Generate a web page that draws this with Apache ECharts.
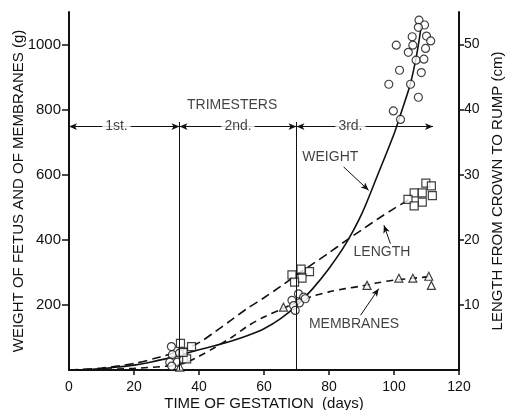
<!DOCTYPE html>
<html><head><meta charset="utf-8">
<script src="https://cdn.jsdelivr.net/npm/echarts@6/dist/echarts.min.js"></script>
<style>html,body{margin:0;padding:0;background:#fff}#c{width:505px;height:410px}</style>
</head><body><div id="c"></div>
<script>
// ---- data (x = days of gestation) ----
const xTickLabels = [0, 20, 40, 60, 80, 100, 120];
const xTickMarks = [20, 40, 60, 80, 100, 120];
const weightTicks = [200, 400, 600, 800, 1000];
const lengthTicks = [10, 20, 30, 40, 50];

// fitted weight curve (g)
const weightCurve = [[0,0],[5,1],[10,4],[15,9],[20,15],[25,24],[30,35],[35,48],[40,62],[45,75],[50,89],[55,106],[60,127],[65,157],[70,198],[75,250],[80,312],[85,385],[90,478],[95,600],[100,725],[102.5,800],[105,878],[107,970],[108.4,1058]];
// fitted crown-rump length curve (cm)
const lengthCurve = [[0,0],[10,0.3],[20,1.0],[28,2.0],[34,2.9],[40,4.2],[45,5.9],[50,7.7],[55,9.5],[60,11.1],[65,12.8],[70,14.6],[75,16.3],[80,18.0],[85,19.8],[90,21.5],[95,23.2],[100,24.8],[105,26.3]];
// fitted membranes weight curve (g)
const membraneCurve = [[0,0],[10,2],[20,5],[30,12],[35,20],[40,42],[45,70],[50,100],[55,135],[60,163],[65,185],[70,208],[75,227],[80,240],[85,250],[90,258],[95,268],[100,276],[105,281],[111,287]];

// observations
const weightObs = [[31.5,72],[31.8,47],[34,52],[31,24],[33.3,24],[35.2,32],[31.6,12],
  [70.6,234],[68.6,214],[72.2,224],[70.9,206],[69.1,198],[69.6,183],[72.7,219],
  [107.7,1075],[109.4,1060],[107.5,1053],[105.6,1024],[110,1026],[111.3,1011],[100.7,998],[105.8,998],[109.7,988],[104.4,976],[106.8,952],[109.2,955],[101.7,921],[108.4,914],[98.4,878],[105.1,878],[107.5,838],[99.8,796],[102,770]];
const lengthObs = [[34.3,4.1],[37.7,3.6],[36.2,1.7],[35.1,2.7],
  [68.6,14.6],[71.4,15.5],[74.0,15.1],[71.7,14.1],[69.4,13.5],
  [109.8,28.7],[111.5,28.3],[106.2,27.2],[108.7,27.2],[111.8,26.8],[104.3,26.2],[108.7,25.8],[106.2,25.2]];
const membraneObs = [[34.1,9],[66,193],[91.7,260],[101.5,282],[105.8,282],[110.7,288],[111.5,260]];

const trimesterBounds = [0, 34, 70, 112];
const trimesterNames = ['1st.', '2nd.', '3rd.'];

const ink = '#111';
const FONT = 'Liberation Sans';
const chart = echarts.init(document.getElementById('c'));

const seg = (a, b, sym) => [{coord: a, symbol: sym[0]}, {coord: b, symbol: sym[1]}];
const trimY = 748;
const markLines = [];
for (let i = 0; i < 3; i++) markLines.push(seg([trimesterBounds[i], trimY], [trimesterBounds[i+1], trimY], ['arrow','arrow']));
markLines.push(seg([34, 0], [34, 762], ['none','none']));
markLines.push(seg([70, 0], [70, 762], ['none','none']));
markLines.push(seg([84.5, 624], [92.2, 552], ['none','arrow']));
markLines.push(seg([98.9, 388], [96.9, 445], ['none','arrow']));
markLines.push(seg([89.7, 168], [95.3, 250], ['none','arrow']));

const txt = (x, y, s, bg) => ({value: [x, y], label: {formatter: s, backgroundColor: bg ? '#fff' : 'transparent', padding: bg ? [1, 3] : 0}});
const annot = [
  txt(50.2, 814, 'TRIMESTERS'),
  txt(14.6, trimY, trimesterNames[0], true),
  txt(52, trimY, trimesterNames[1], true),
  txt(86.6, trimY, trimesterNames[2], true),
  txt(80.4, 653, 'WEIGHT'),
  txt(96.3, 362, 'LENGTH'),
  txt(87.7, 142, 'MEMBRANES')
];

const axisLine = {show: true, lineStyle: {color: ink, width: 2}};
const lbl = {color: ink, fontFamily: FONT, fontSize: 14, formatter: v => String(v)};
const nameStyle = {color: ink, fontFamily: FONT, fontSize: 15};
const open = {color: '#fff', borderColor: ink, borderWidth: 1.2};

chart.setOption({
  animation: false,
  grid: {left: 69, right: 46, top: 12, bottom: 40, containLabel: false, outerBoundsMode: 'none'},
  xAxis: {
    type: 'value', min: 0, max: 120, interval: 20,
    axisLine: axisLine,
    axisTick: {show: true, length: 5, customValues: xTickMarks, lineStyle: {color: ink, width: 1.5}},
    axisLabel: Object.assign({customValues: xTickLabels, margin: 10}, lbl),
    splitLine: {show: false},
    name: 'TIME OF GESTATION  (days)', nameLocation: 'middle', nameGap: 26, nameMoveOverlap: false, nameTextStyle: nameStyle
  },
  yAxis: [{
    type: 'value', min: 0, max: 1100, position: 'left',
    axisLine: axisLine,
    axisTick: {show: true, length: 7, customValues: weightTicks, lineStyle: {color: ink, width: 1.5}},
    axisLabel: Object.assign({}, lbl, {customValues: weightTicks, margin: 8, fontSize: 15}),
    splitLine: {show: false},
    name: 'WEIGHT OF FETUS AND OF MEMBRANES (g)', nameLocation: 'middle', nameRotate: 90, nameGap: 43, nameMoveOverlap: false, nameTextStyle: nameStyle
  }, {
    type: 'value', min: 0, max: 55, position: 'right',
    axisLine: axisLine,
    axisTick: {show: true, length: 5, customValues: lengthTicks, lineStyle: {color: ink, width: 1.5}},
    axisLabel: Object.assign({}, lbl, {customValues: lengthTicks, margin: 5}),
    splitLine: {show: false},
    name: 'LENGTH FROM CROWN TO RUMP (cm)', nameLocation: 'middle', nameRotate: 90, nameGap: 31, nameMoveOverlap: false, nameTextStyle: nameStyle
  }],
  series: [
    {type: 'line', name: 'weight', data: weightCurve, yAxisIndex: 0, smooth: 0.3, showSymbol: false, symbol: 'none',
     lineStyle: {color: ink, width: 1.6}, silent: true, z: 2,
     markLine: {silent: true, symbolSize: [5, 8], label: {show: false}, lineStyle: {color: ink, width: 1, type: 'solid'}, emphasis: {disabled: true}, data: markLines}},
    {type: 'line', name: 'length', data: lengthCurve, yAxisIndex: 1, smooth: 0.3, symbol: 'none',
     lineStyle: {color: ink, width: 1.6, type: [9, 5]}, silent: true, z: 2},
    {type: 'line', name: 'membranes', data: membraneCurve, yAxisIndex: 0, smooth: 0.3, symbol: 'none',
     lineStyle: {color: ink, width: 1.6, type: [7, 5]}, silent: true, z: 2},
    {type: 'scatter', data: weightObs, yAxisIndex: 0, symbol: 'circle', symbolSize: 8, itemStyle: open, silent: true, z: 4},
    {type: 'scatter', data: lengthObs, yAxisIndex: 1, symbol: 'rect', symbolSize: 8, itemStyle: open, silent: true, z: 4},
    {type: 'scatter', data: membraneObs, yAxisIndex: 0, symbol: 'triangle', symbolSize: 8, itemStyle: open, silent: true, z: 4},
    {type: 'scatter', data: annot, yAxisIndex: 0, symbolSize: 1, itemStyle: {color: 'rgba(0,0,0,0)'}, silent: true, z: 10,
     label: {show: true, position: 'inside', color: ink, fontFamily: FONT, fontSize: 14}}
  ]
});
</script></body></html>
